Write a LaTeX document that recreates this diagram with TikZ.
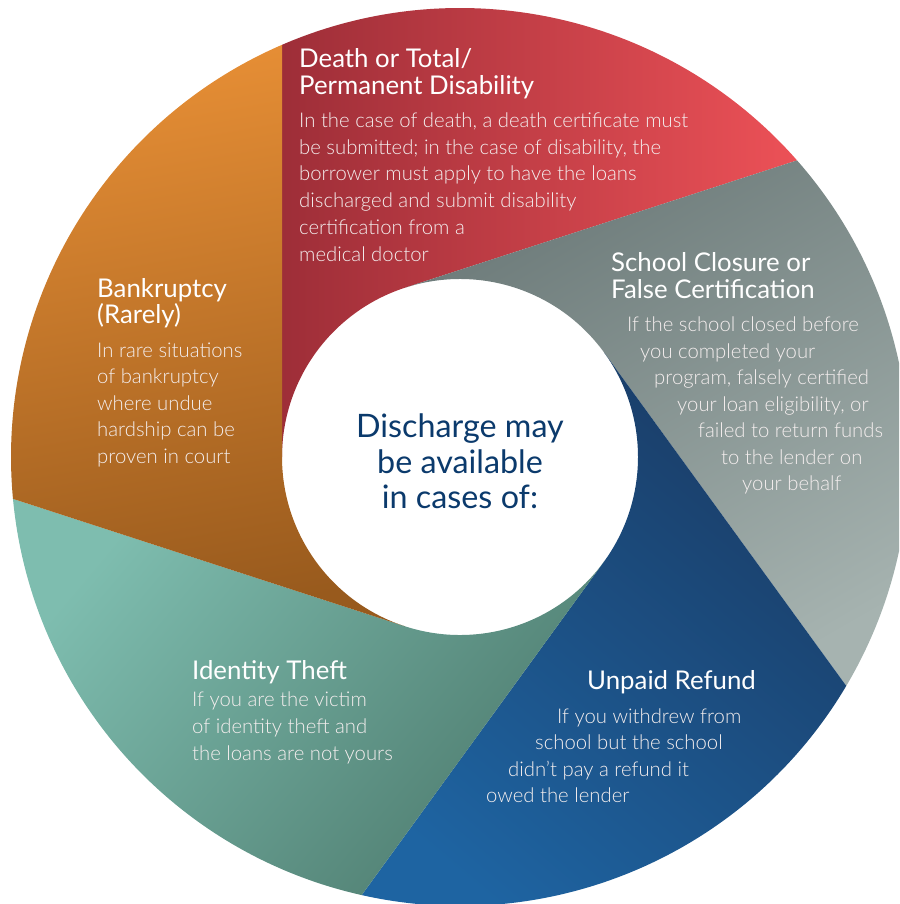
\documentclass[tikz,border=0pt]{standalone}
\usepackage{fontspec}
\setmainfont{Lato}
\newfontfamily\bodyfont{Lato}[UprightFont=* Light]
\definecolor{redL}{HTML}{9E2E38}
\definecolor{redR}{HTML}{EC5157}
\definecolor{orT}{HTML}{E68E35}
\definecolor{orB}{HTML}{985A1D}
\definecolor{grD}{HTML}{6D7B7A}
\definecolor{grL}{HTML}{A6B3B0}
\definecolor{blD}{HTML}{1A3C66}
\definecolor{blL}{HTML}{1E64A2}
\definecolor{tlL}{HTML}{7EBDAF}
\definecolor{tlD}{HTML}{4E7C6F}
\definecolor{navy}{HTML}{0B3A6C}
\definecolor{txt}{HTML}{F4EEEE}
\begin{document}
\begin{tikzpicture}[x=1pt,y=1pt,
  ttl/.style={anchor=base west, inner sep=0pt, text=white, font=\fontsize{25.8}{28}\selectfont},
  bdy/.style={anchor=base west, inner sep=0pt, text=txt, font=\bodyfont\fontsize{20.3}{26}\selectfont},
  hub/.style={anchor=base, inner sep=0pt, text=navy, font=\fontsize{32.3}{36}\selectfont}]
\useasboundingbox (0,0) rectangle (899,-904);
\clip (0,0) rectangle (899,-904);
\begin{scope}[shift={(460,-457)}]
\def\ri{178}\def\ro{449}
% red
\shade[left color=redL, right color=redR]
  (180:\ri) -- (113.35:\ro) arc[start angle=113.35, end angle=41.35, radius=\ro]
  -- (108:\ri) arc[start angle=108, end angle=180, radius=\ri] -- cycle;
% gray
\shade[top color=grD, bottom color=grL, shading angle=30]
  (108:\ri) -- (41.35:\ro) arc[start angle=41.35, end angle=-30.65, radius=\ro]
  -- (36:\ri) arc[start angle=36, end angle=108, radius=\ri] -- cycle;
% blue
\shade[top color=blD, bottom color=blL, shading angle=-40]
  (36:\ri) -- (-30.65:\ro) arc[start angle=-30.65, end angle=-102.65, radius=\ro]
  -- (-36:\ri) arc[start angle=-36, end angle=36, radius=\ri] -- cycle;
% teal
\shade[top color=tlL, bottom color=tlD, shading angle=50]
  (-36:\ri) -- (-102.65:\ro) arc[start angle=-102.65, end angle=-174.65, radius=\ro]
  -- (-108:\ri) arc[start angle=-108, end angle=-36, radius=\ri] -- cycle;
% orange
\shade[top color=orT, bottom color=orB, shading angle=10]
  (-108:\ri) -- (-174.65:\ro) arc[start angle=-174.65, end angle=-246.65, radius=\ro]
  -- (180:\ri) arc[start angle=180, end angle=252, radius=\ri] -- cycle;
\end{scope}
% red texts
\node[ttl] (r1) at (299,-68) {Death or Total/};
\node[ttl] (r2) at (299,-94.5) {Permanent Disability};
\node[bdy] (r3) at (299,-127.7) {In the case of death, a death certificate must};
\node[bdy] (r4) at (299,-154.3) {be submitted; in the case of disability, the};
\node[bdy] (r5) at (299,-181) {borrower must apply to have the loans};
\node[bdy] (r6) at (299,-207.7) {discharged and submit disability};
\node[bdy] (r7) at (299,-234.3) {certification from a};
\node[bdy] (r8) at (299,-261) {medical doctor};
% orange texts
\node[ttl] (o1) at (97,-297) {Bankruptcy};
\node[ttl] (o2) at (97,-323.5) {(Rarely)};
\node[bdy] (o3) at (97,-357) {In rare situations};
\node[bdy] (o4) at (97,-383.5) {of bankruptcy};
\node[bdy] (o5) at (97,-410) {where undue};
\node[bdy] (o6) at (97,-436.5) {hardship can be};
\node[bdy] (o7) at (97,-463) {proven in court};
% gray texts
\node[ttl] (g1) at (611,-271.7) {School Closure or};
\node[ttl] (g2) at (611,-298.3) {False Certification};
\node[bdy] (g3) at (627,-331.5) {If the school closed before};
\node[bdy] (g4) at (640,-358) {you completed your};
\node[bdy] (g5) at (654,-384.5) {program, falsely certified};
\node[bdy] (g6) at (677,-411) {your loan eligibility, or};
\node[bdy] (g7) at (698,-437.5) {failed to return funds};
\node[bdy] (g8) at (721,-464) {to the lender on};
\node[bdy] (g9) at (742,-490.5) {your behalf};
% blue texts
\node[ttl] (b1) at (587,-689) {Unpaid Refund};
\node[bdy] (b2) at (557,-723) {If you withdrew from};
\node[bdy] (b3) at (535,-749.5) {school but the school};
\node[bdy] (b4) at (508,-776) {didn’t pay a refund it};
\node[bdy] (b5) at (486,-802) {owed the lender};
% teal texts
\node[ttl] (t1) at (192,-679) {Identity Theft};
\node[bdy] (t2) at (192,-706.7) {If you are the victim};
\node[bdy] (t3) at (192,-733.3) {of identity theft and};
\node[bdy] (t4) at (192,-760) {the loans are not yours};
% hub
\node[hub] (h1) at (460,-437) {Discharge may};
\node[hub] (h2) at (460,-473) {be available};
\node[hub] (h3) at (460,-508) {in cases of:};
\end{tikzpicture}
\end{document}
